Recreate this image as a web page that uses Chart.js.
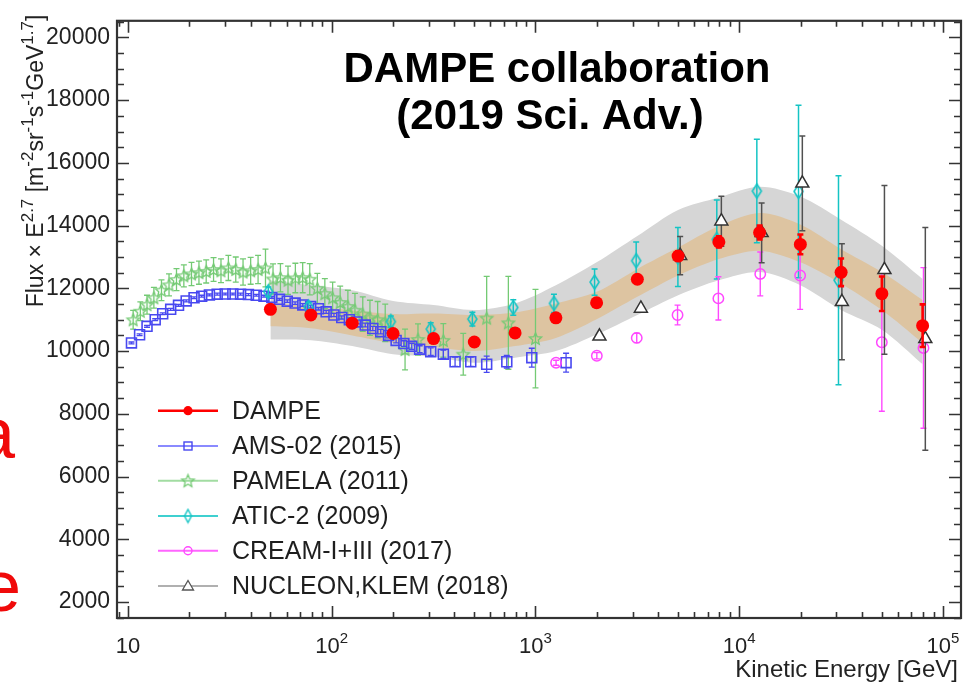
<!DOCTYPE html>
<html><head><meta charset="utf-8">
<script src="https://cdn.jsdelivr.net/npm/chart.js@4/dist/chart.umd.min.js"></script>
<style>html,body{margin:0;padding:0;background:#fff;}#wrap{width:970px;height:682px;position:relative;}</style>
</head><body><div id="wrap"><canvas id="c" width="970" height="682"></canvas></div>
<script>
// ---------------- DATA ----------------
const dampeE    = [50, 79, 126, 200, 316, 501, 794, 1259, 1995, 3162, 5012, 7943, 12589, 19953, 31623, 50119, 79433];
const dampeFlux = [11330, 11150, 10890, 10560, 10400, 10290, 10580, 11060, 11540, 12290, 13030, 13480, 13780, 13400, 12510, 11830, 10810];
const dampeErr  = [40, 40, 40, 40, 50, 60, 70, 80, 100, 120, 150, 180, 220, 315, 440, 550, 680];

const bandE    = [50, 79, 126, 200, 316, 501, 794, 1259, 1995, 3162, 5012, 7943, 12589, 19953, 31623, 50119, 79433];
const grayHigh = [12250, 12100, 11940, 11600, 11470, 11310, 11520, 12100, 12830, 13670, 14500, 14900, 15240, 14930, 14190, 13360, 12300];
const tanHigh  = [11550, 11420, 11300, 11180, 11200, 11150, 11230, 11520, 11890, 12620, 13300, 13985, 14400, 14035, 13250, 12520, 11625];
const tanLow   = [10790, 10730, 10500, 10260, 10140, 10000, 10160, 10420, 11015, 11730, 12410, 12935, 13200, 12830, 12150, 11310, 10260];
const grayLow  = [10370, 10345, 10160, 9900, 9820, 9630, 9790, 10000, 10525, 11150, 11780, 12255, 12520, 12100, 11310, 10680, 9580];

const amsE    = [10.4, 11.4, 12.4, 13.6, 14.8, 16.2, 17.7, 19.3, 21.1, 23.0, 25.1, 27.4, 30.0, 32.7, 35.7, 39.0, 42.6, 46.5, 50.8, 55.4, 60.5, 66.1, 72.1, 78.8, 86.0, 93.9, 102.5, 112, 122, 133, 146, 159, 174, 190, 207, 226, 247, 270, 306, 353, 403, 481, 576, 723, 959, 1413];
const amsFlux = [10260, 10520, 10790, 11000, 11190, 11330, 11460, 11600, 11700, 11750, 11790, 11815, 11820, 11820, 11815, 11800, 11780, 11750, 11710, 11650, 11590, 11530, 11470, 11420, 11350, 11250, 11150, 11070, 11000, 10930, 10830, 10720, 10620, 10500, 10340, 10240, 10150, 10060, 9980, 9900, 9660, 9660, 9580, 9660, 9790, 9630, 9420];
const amsErr  = [30, 30, 30, 30, 30, 30, 30, 30, 30, 30, 30, 30, 30, 30, 30, 30, 30, 30, 30, 30, 40, 40, 40, 40, 40, 50, 50, 50, 60, 60, 60, 70, 70, 80, 80, 90, 100, 110, 120, 130, 150, 150, 260, 200, 300, 300, 550];

const pamE    = [10.6, 11.5, 12.4, 13.4, 14.6, 15.9, 17.3, 18.8, 20.5, 22.3, 24.2, 26.3, 28.6, 31.1, 33.8, 36.7, 40, 43.5, 47.3, 51.5, 56, 61, 66.3, 72, 78, 85, 92.5, 101, 110, 120, 130, 142, 154, 168, 183, 229, 265, 353, 442, 576, 736, 1000];
const pamFlux = [10997, 11270, 11480, 11700, 11940, 12110, 12280, 12400, 12460, 12500, 12540, 12600, 12560, 12650, 12600, 12520, 12560, 12600, 12650, 12300, 12340, 12260, 12330, 12340, 12290, 12000, 11830, 11700, 11550, 11420, 11300, 11180, 11060, 11000, 10900, 10050, 10370, 10340, 9900, 11050, 10900, 10400];
const pamErr  = [300, 300, 300, 330, 330, 350, 350, 350, 370, 370, 370, 380, 380, 400, 400, 420, 430, 450, 600, 480, 450, 450, 470, 480, 500, 480, 480, 500, 520, 520, 540, 550, 560, 580, 600, 650, 500, 535, 665, 1330, 1480, 1570];

const aticE    = [48.8, 77, 195, 306, 490, 778, 1232, 1950, 3120, 5000, 7760, 12200, 19540, 30700];
const aticFlux = [11890, 11400, 10940, 10700, 11020, 11390, 11520, 12200, 12880, 13000, 13560, 15100, 15090, 12260];
const aticErr  = [150, 150, 180, 200, 220, 250, 290, 420, 600, 940, 1260, 1650, 2750, 3330];

const creamE    = [1262, 2000, 3140, 4980, 7900, 12680, 19900, 50100, 80200];
const creamFlux = [9630, 9850, 10420, 11150, 11680, 12460, 12410, 10280, 10100];
const creamErr  = [80, 100, 150, 315, 690, 700, 1080, 2200, 2560];

const nucE    = [2060, 3290, 5130, 8170, 12880, 20400, 31900, 51600, 81900];
const nucFlux = [10470, 11360, 13040, 14140, 13770, 15350, 11570, 12590, 10390];
const nucErr  = [0, 0, 610, 800, 950, 1510, 1850, 2690, 3550];

const seriesNames = ['DAMPE', 'AMS-02 (2015)', 'PAMELA (2011)', 'ATIC-2 (2009)', 'CREAM-I+III (2017)', 'NUCLEON,KLEM (2018)'];
const yTickValues = [2000, 4000, 6000, 8000, 10000, 12000, 14000, 16000, 18000, 20000];
const yMinorStep = 500;
const xTickValues = [10, 100, 1000, 10000, 100000];
const xTickBase = ['10', '10', '10', '10', '10'];
const xTickExp  = ['', '2', '3', '4', '5'];
const titleLines = ['DAMPE collaboration', '(2019 Sci. Adv.)'];
const xTitle = 'Kinetic Energy [GeV]';
// y-axis title parts: [text, isSuperscript]
const yTitleParts = [['Flux \u00d7 E', false], ['2.7', true], [' [m', false], ['-2', true], ['sr', false], ['-1', true], ['s', false], ['-1', true], ['GeV', false], ['1.7', true], [']', false]];

// ---------------- helpers ----------------
const FONT = "'Liberation Sans', Arial, Helvetica, sans-serif";
const pts = (xs, ys) => xs.map((v, i) => ({x: v, y: ys[i]}));

function markerCanvas(w, h, draw) {
  const c = document.createElement('canvas');
  c.width = w; c.height = h;
  draw(c.getContext('2d'), w, h);
  return c;
}
function starMarker(R, color, lw) {
  const s = Math.ceil(2 * R + 4);
  return markerCanvas(s, s, (g, w, h) => {
    g.strokeStyle = color; g.lineWidth = lw;
    g.beginPath();
    for (let k = 0; k < 10; k++) {
      const r = k % 2 ? R * 0.45 : R;
      const a = -Math.PI / 2 + k * Math.PI / 5;
      const px = w / 2 + r * Math.cos(a), py = h / 2 + 0.5 + r * Math.sin(a);
      k ? g.lineTo(px, py) : g.moveTo(px, py);
    }
    g.closePath(); g.stroke();
  });
}
function diamondMarker(dw, dh, color, lw) {
  const w = dw + 4, h = dh + 4;
  return markerCanvas(w, h, (g) => {
    g.strokeStyle = color; g.lineWidth = lw;
    g.beginPath();
    g.moveTo(w / 2, 2); g.lineTo(w - 2, h / 2); g.lineTo(w / 2, h - 2); g.lineTo(2, h / 2);
    g.closePath(); g.stroke();
  });
}

const C = {
  dampe: '#ff0000',
  ams: '#4848f0', amsLine: '#8a8aff',
  pam: '#74ca74', pamLine: '#a2dca2',
  atic: '#14c4c4', aticLine: '#3fd0d0',
  cream: '#ff48ff', creamLine: '#ff66ff',
  nuc: '#333333', nucLine: '#b0b0b0', nucBar: '#505050'
};

const starPlot = starMarker(6.4, C.pam, 1.3);
const diamondPlot = diamondMarker(9, 14, C.atic, 1.6);

// ---------------- plugins ----------------
const errorBarPlugin = {
  id: 'errorBars',
  beforeDatasetDraw(chart, args) {
    const ds = chart.data.datasets[args.index];
    if (!ds.errBars) return;
    const {ctx, chartArea: a, scales: {x, y}} = chart;
    ctx.save();
    ctx.beginPath(); ctx.rect(a.left, a.top, a.right - a.left, a.bottom - a.top); ctx.clip();
    ctx.strokeStyle = ds.errColor; ctx.lineWidth = ds.errWidth || 1.3;
    const cw = ds.capW || 3;
    ds.data.forEach((p, i) => {
      const e = ds.errBars[i];
      if (!e) return;
      const px = x.getPixelForValue(p.x);
      const y1 = y.getPixelForValue(p.y - e), y2 = y.getPixelForValue(p.y + e);
      ctx.beginPath();
      ctx.moveTo(px, y1); ctx.lineTo(px, y2);
      ctx.moveTo(px - cw, y1); ctx.lineTo(px + cw, y1);
      ctx.moveTo(px - cw, y2); ctx.lineTo(px + cw, y2);
      ctx.stroke();
    });
    ctx.restore();
  }
};

const decorPlugin = {
  id: 'decor',
  afterDatasetsDraw(chart) {
    const {ctx, chartArea: a, scales: {x, y}} = chart;
    ctx.save();
    // frame
    ctx.strokeStyle = '#333'; ctx.lineWidth = 2.2;
    ctx.strokeRect(a.left, a.top, a.right - a.left, a.bottom - a.top);
    ctx.lineWidth = 1.6;
    ctx.beginPath();
    // y ticks (left and right, inward)
    for (let v = Math.ceil(y.min / yMinorStep) * yMinorStep; v <= y.max; v += yMinorStep) {
      const py = Math.round(y.getPixelForValue(v)) + 0.5;
      const L = yTickValues.includes(v) ? 12 : 7;
      ctx.moveTo(a.left, py); ctx.lineTo(a.left + L, py);
      ctx.moveTo(a.right, py); ctx.lineTo(a.right - L, py);
    }
    // x ticks (bottom and top, inward)
    for (let d = 0; d <= 5; d++) {
      for (let m = 1; m <= 9; m++) {
        const v = m * Math.pow(10, d);
        if (v < x.min || v > x.max) continue;
        const px = Math.round(x.getPixelForValue(v)) + 0.5;
        const L = m === 1 ? 12 : 6;
        ctx.moveTo(px, a.bottom); ctx.lineTo(px, a.bottom - L);
        ctx.moveTo(px, a.top); ctx.lineTo(px, a.top + L);
      }
    }
    ctx.stroke();

    // x tick labels with superscripts
    ctx.fillStyle = '#222'; ctx.textBaseline = 'alphabetic';
    xTickValues.forEach((v, i) => {
      const px = x.getPixelForValue(v);
      ctx.font = '22px ' + FONT;
      const wb = ctx.measureText(xTickBase[i]).width;
      ctx.font = '15px ' + FONT;
      const we = xTickExp[i] ? ctx.measureText(xTickExp[i]).width : 0;
      const x0 = px - (wb + we) / 2;
      ctx.font = '22px ' + FONT; ctx.textAlign = 'left';
      ctx.fillText(xTickBase[i], x0, 653);
      if (xTickExp[i]) { ctx.font = '15px ' + FONT; ctx.fillText(xTickExp[i], x0 + wb, 643); }
    });
    // x title
    ctx.font = '24px ' + FONT; ctx.textAlign = 'right';
    ctx.fillText(xTitle, 958, 677);

    // y title (rotated, with superscripts)
    ctx.save();
    ctx.translate(43, 161);
    ctx.rotate(-Math.PI / 2);
    const bf = '23px ' + FONT, sf = '17px ' + FONT;
    let total = 0;
    yTitleParts.forEach(([t, sup]) => { ctx.font = sup ? sf : bf; total += ctx.measureText(t).width; });
    let cx = -total / 2;
    ctx.textAlign = 'left';
    yTitleParts.forEach(([t, sup]) => {
      ctx.font = sup ? sf : bf;
      ctx.fillText(t, cx, sup ? -10 : 0);
      cx += ctx.measureText(t).width;
    });
    ctx.restore();

    // title
    ctx.fillStyle = '#000'; ctx.textAlign = 'center';
    ctx.font = 'bold 42px ' + FONT;
    ctx.fillText(titleLines[0], 557, 82);
    ctx.fillText(titleLines[1], 550, 129);

    // legend
    const rows = [410.7, 446, 480.7, 516, 550.7, 586];
    const legend = [
      {line: C.dampe, lw: 2.6, mk: (cx, cy) => { ctx.fillStyle = C.dampe; ctx.beginPath(); ctx.arc(cx, cy, 4.6, 0, Math.PI * 2); ctx.fill(); }},
      {line: C.amsLine, lw: 2, mk: (cx, cy) => { ctx.strokeStyle = C.ams; ctx.lineWidth = 1.4; ctx.strokeRect(cx - 4, cy - 4, 8, 8); }},
      {line: C.pamLine, lw: 2, mk: (cx, cy) => { const s = starMarker(6.5, C.pam, 1.3); ctx.drawImage(s, cx - s.width / 2, cy - s.height / 2); }},
      {line: C.aticLine, lw: 2, mk: (cx, cy) => { const s = diamondMarker(7, 13, C.atic, 1.4); ctx.drawImage(s, cx - s.width / 2, cy - s.height / 2); }},
      {line: C.creamLine, lw: 2, mk: (cx, cy) => { ctx.strokeStyle = C.cream; ctx.lineWidth = 1.4; ctx.beginPath(); ctx.arc(cx, cy, 4, 0, Math.PI * 2); ctx.stroke(); }},
      {line: C.nucLine, lw: 2, mk: (cx, cy) => { ctx.strokeStyle = '#555'; ctx.fillStyle = '#fff'; ctx.lineWidth = 1.3; ctx.beginPath(); ctx.moveTo(cx, cy - 5.5); ctx.lineTo(cx + 5.5, cy + 4); ctx.lineTo(cx - 5.5, cy + 4); ctx.closePath(); ctx.fill(); ctx.stroke(); }}
    ];
    legend.forEach((L, i) => {
      const yy = rows[i];
      ctx.strokeStyle = L.line; ctx.lineWidth = L.lw;
      ctx.beginPath(); ctx.moveTo(158, yy); ctx.lineTo(218, yy); ctx.stroke();
      L.mk(188, yy);
      ctx.fillStyle = '#1e1e1e'; ctx.font = '25px ' + FONT; ctx.textAlign = 'left'; ctx.textBaseline = 'middle';
      ctx.fillText(seriesNames[i], 232, yy + 1);
    });
    ctx.restore();
  },
  afterDraw(chart) {
    const ctx = chart.ctx;
    ctx.save();
    // cropped slide letters at the left edge
    ctx.fillStyle = '#f00a0a'; ctx.font = '72px ' + FONT; ctx.textAlign = 'right'; ctx.textBaseline = 'alphabetic';
    ctx.fillText('a', 15, 458);
    ctx.fillText('e', 21, 611);
    ctx.restore();
  }
};

// ---------------- chart ----------------
const openPt = 'rgba(255,255,255,0)';
new Chart(document.getElementById('c'), {
  type: 'line',
  data: {
    datasets: [
      {label: seriesNames[0], data: pts(dampeE, dampeFlux), showLine: false, order: 0,
       pointStyle: 'circle', pointRadius: 6.5, pointBackgroundColor: C.dampe, pointBorderColor: C.dampe, pointBorderWidth: 0,
       errBars: dampeErr, errColor: C.dampe, errWidth: 2.6, capW: 3},
      {label: seriesNames[5], data: pts(nucE, nucFlux), showLine: false, order: 1,
       pointStyle: 'triangle', pointRadius: 7.5, pointBackgroundColor: '#fff', pointBorderColor: C.nuc, pointBorderWidth: 1.5,
       errBars: nucErr, errColor: C.nucBar, errWidth: 1.5, capW: 3},
      {label: seriesNames[4], data: pts(creamE, creamFlux), showLine: false, order: 2,
       pointStyle: 'circle', pointRadius: 5.2, pointBackgroundColor: openPt, pointBorderColor: C.cream, pointBorderWidth: 1.5,
       errBars: creamErr, errColor: C.cream, errWidth: 1.4, capW: 3},
      {label: seriesNames[3], data: pts(aticE, aticFlux), showLine: false, order: 3,
       pointStyle: diamondPlot, pointRadius: 7,
       errBars: aticErr, errColor: C.atic, errWidth: 1.5, capW: 3},
      {label: seriesNames[1], data: pts(amsE, amsFlux), showLine: false, order: 4,
       pointStyle: 'rect', pointRadius: 7, pointBackgroundColor: openPt, pointBorderColor: C.ams, pointBorderWidth: 1.6,
       errBars: amsErr, errColor: C.ams, errWidth: 1.3, capW: 3},
      {label: seriesNames[2], data: pts(pamE, pamFlux), showLine: false, order: 5,
       pointStyle: starPlot, pointRadius: 7,
       errBars: pamErr, errColor: C.pam, errWidth: 1.3, capW: 3},
      {label: 'tan-high', data: pts(bandE, tanHigh), order: 8, borderWidth: 0, pointRadius: 0, tension: 0.3,
       fill: '+1', backgroundColor: 'rgb(221,196,161)', borderColor: 'rgba(0,0,0,0)'},
      {label: 'tan-low', data: pts(bandE, tanLow), order: 8, borderWidth: 0, pointRadius: 0, tension: 0.3,
       fill: false, borderColor: 'rgba(0,0,0,0)'},
      {label: 'gray-high', data: pts(bandE, grayHigh), order: 9, borderWidth: 0, pointRadius: 0, tension: 0.3,
       fill: '+1', backgroundColor: 'rgb(214,214,214)', borderColor: 'rgba(0,0,0,0)'},
      {label: 'gray-low', data: pts(bandE, grayLow), order: 9, borderWidth: 0, pointRadius: 0, tension: 0.3,
       fill: false, borderColor: 'rgba(0,0,0,0)'}
    ]
  },
  options: {
    responsive: false,
    animation: false,
    devicePixelRatio: 1,
    layout: {padding: {top: 10, right: 9, left: 0, bottom: 0}},
    plugins: {legend: {display: false}, tooltip: {enabled: false}, title: {display: false}},
    scales: {
      x: {type: 'logarithmic', min: 8.832, max: 122570,
          grid: {display: false, drawTicks: false}, border: {display: false},
          ticks: {display: false},
          afterFit: s => { s.height = 64; }},
      y: {type: 'linear', min: 1490, max: 20530,
          grid: {display: false, drawTicks: false}, border: {display: false},
          ticks: {font: {size: 23, family: FONT}, color: '#222', padding: 7, callback: v => String(v)},
          afterBuildTicks: s => { s.ticks = yTickValues.map(v => ({value: v})); },
          afterFit: s => { s.width = 117; }}
    }
  },
  plugins: [errorBarPlugin, decorPlugin]
});
</script>
</body></html>
